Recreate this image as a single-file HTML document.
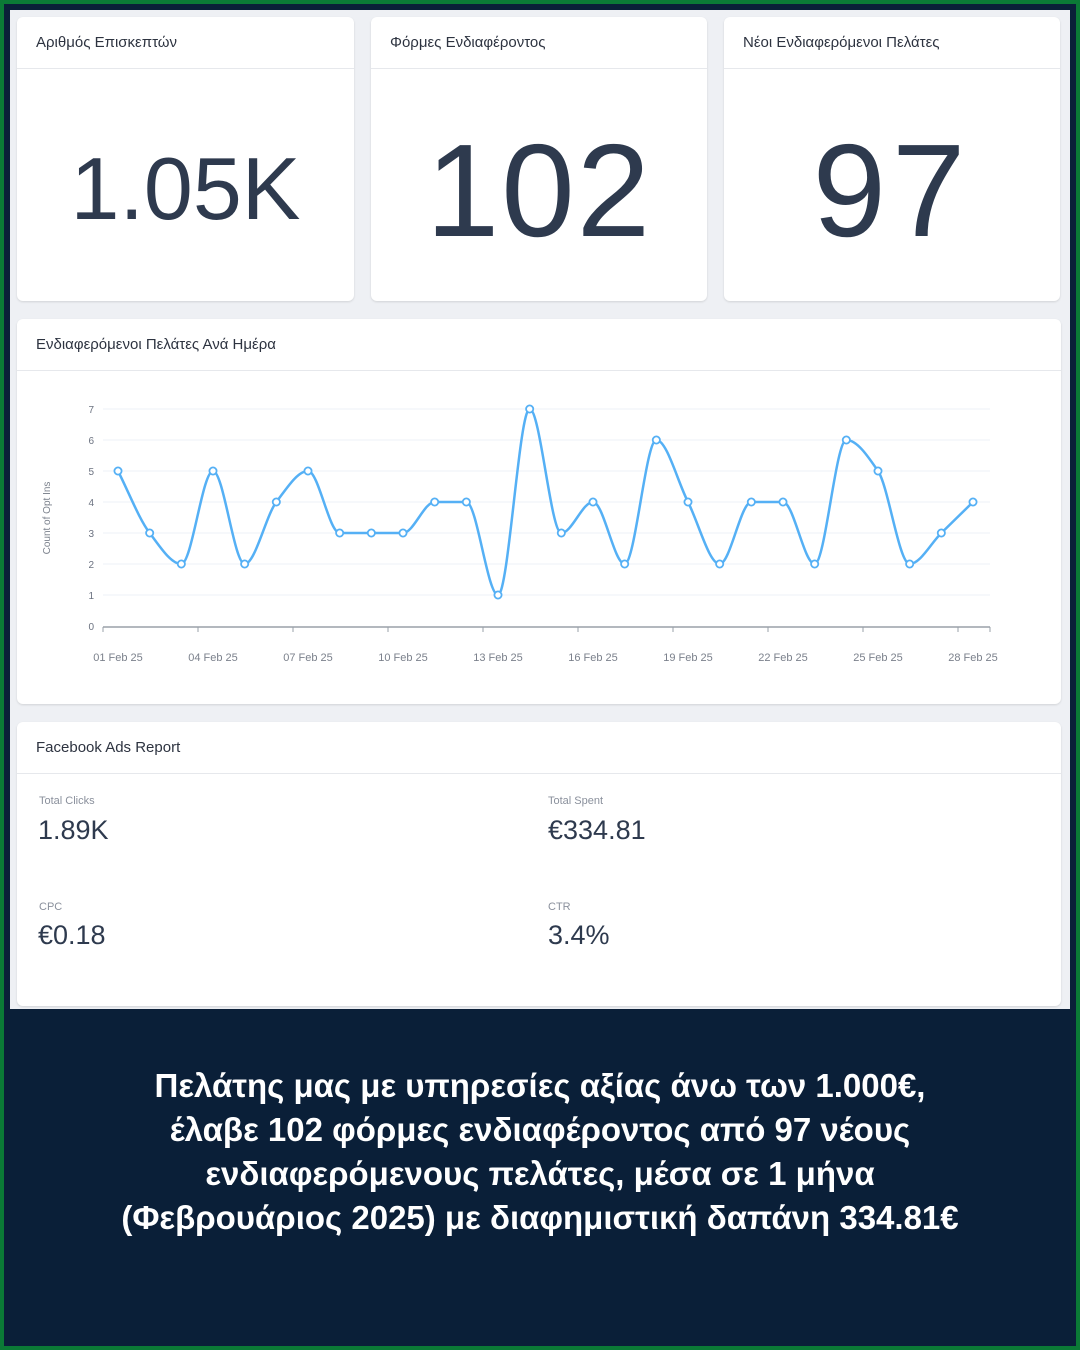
<!DOCTYPE html>
<html><head><meta charset="utf-8"><style>
*{margin:0;padding:0;box-sizing:border-box}
body{width:1080px;height:1350px;position:relative;background:#0a1f38;font-family:"Liberation Sans","DejaVu Sans",sans-serif;overflow:hidden}
.frame{position:absolute;left:0;top:0;width:1080px;height:1350px;border:4px solid #0b7a36;background:#0a1f38}
.gray{position:absolute;left:10px;top:10px;width:1060px;height:999px;background:#eef0f4}
.card{position:absolute;background:#fff;border-radius:6px;box-shadow:0 1px 2px rgba(0,0,0,.12)}
.hd{position:absolute;left:0;right:0;top:0;height:52px;border-bottom:1px solid #e6e8ec;font-size:15px;color:#2d3340;padding:17px 0 0 19px}
.big{position:absolute;left:0;right:0;text-align:center;color:#2e3a4e}
.lbl{position:absolute;font-size:11px;color:#8a909c}
.val{position:absolute;font-size:27px;color:#2e3a4e}
.foot{position:absolute;left:0;width:1080px;top:1064px;text-align:center;color:#fff;font-weight:bold;font-size:33px;line-height:44px}
</style></head><body>
<div class="frame"></div>
<div class="gray"></div>
<div class="card" style="left:17px;top:17px;width:337px;height:284px"><div class="hd">Αριθμός Επισκεπτών</div><div class="big" style="top:122px;font-size:88px;line-height:100px;letter-spacing:0px">1.05K</div></div>
<div class="card" style="left:371px;top:17px;width:336px;height:284px"><div class="hd">Φόρμες Ενδιαφέροντος</div><div class="big" style="top:104px;font-size:132px;line-height:140px;letter-spacing:2px">102</div></div>
<div class="card" style="left:724px;top:17px;width:336px;height:284px"><div class="hd">Νέοι Ενδιαφερόμενοι Πελάτες</div><div class="big" style="top:104px;font-size:132px;line-height:140px;letter-spacing:6px">97</div></div>
<div class="card" style="left:17px;top:319px;width:1044px;height:385px"><div class="hd">Ενδιαφερόμενοι Πελάτες Ανά Ημέρα</div></div>
<div class="card" style="left:17px;top:722px;width:1044px;height:284px"><div class="hd">Facebook Ads Report</div>
<div class="lbl" style="left:22px;top:73px">Total Clicks</div><div class="val" style="left:21px;top:93px">1.89K</div>
<div class="lbl" style="left:531px;top:73px">Total Spent</div><div class="val" style="left:531px;top:93px">€334.81</div>
<div class="lbl" style="left:22px;top:179px">CPC</div><div class="val" style="left:21px;top:198px">€0.18</div>
<div class="lbl" style="left:531px;top:179px">CTR</div><div class="val" style="left:531px;top:198px">3.4%</div>
</div>
<svg id="ch" width="1080" height="1350" style="position:absolute;left:0;top:0" font-family="Liberation Sans, sans-serif"></svg>
<div class="foot">Πελάτης μας με υπηρεσίες αξίας άνω των 1.000€,<br>έλαβε 102 φόρμες ενδιαφέροντος από 97 νέους<br>ενδιαφερόμενους πελάτες, μέσα σε 1 μήνα<br>(Φεβρουάριος 2025) με διαφημιστική δαπάνη 334.81€</div>
<script>
var d=[5,3,2,5,2,4,5,3,3,3,4,4,1,7,3,4,2,6,4,2,4,4,2,6,5,2,3,4];
var s='';
var h=(973-118)/27;
function X(i){return 118+i*h}
function Y(v){return 626-v*31}
for(var v=1;v<=7;v++)s+='<line x1="103" x2="990" y1="'+Y(v)+'" y2="'+Y(v)+'" stroke="#eef2f7" stroke-width="1"/>';
for(var v=0;v<=7;v++)s+='<text x="94" y="'+(Y(v)+4)+'" font-size="10" fill="#6b7280" text-anchor="end">'+v+'</text>';
s+='<line x1="103" x2="990" y1="627" y2="627" stroke="#9aa0a8" stroke-width="1.5"/>';
var labs=['01','04','07','10','13','16','19','22','25','28'];
for(var k=0;k<10;k++){var tx=103+k*95;s+='<line x1="'+tx+'" x2="'+tx+'" y1="627" y2="632" stroke="#9aa0a8"/>';s+='<text x="'+X(k*3)+'" y="661" font-size="11" fill="#7b818c" text-anchor="middle">'+labs[k]+' Feb 25</text>';}
s+='<line x1="990" x2="990" y1="627" y2="632" stroke="#9aa0a8"/>';
s+='<text transform="translate(50,518) rotate(-90)" font-size="10" fill="#7b818c" text-anchor="middle">Count of Opt Ins</text>';
var n=28,m=[],del=[];
for(var i=0;i<n-1;i++)del[i]=(d[i+1]-d[i]);
for(var i=0;i<n;i++){
 if(i==0)m[i]=del[0];else if(i==n-1)m[i]=del[n-2];
 else{var a=del[i-1],b=del[i];m[i]=(a*b<=0)?0:(2*a*b/(a+b));}
}
var p='M'+X(0)+','+Y(d[0]);
for(var i=0;i<n-1;i++){
 p+=' C'+(X(i)+h/3)+','+Y(d[i]+m[i]/3)+' '+(X(i+1)-h/3)+','+Y(d[i+1]-m[i+1]/3)+' '+X(i+1)+','+Y(d[i+1]);}
s+='<path d="'+p+'" fill="none" stroke="#55b0f5" stroke-width="2.5"/>';
for(var i=0;i<28;i++)s+='<circle cx="'+X(i)+'" cy="'+Y(d[i])+'" r="3.6" fill="#fff" stroke="#55b0f5" stroke-width="1.8"/>';
document.getElementById('ch').innerHTML=s;
</script>
</body></html>
